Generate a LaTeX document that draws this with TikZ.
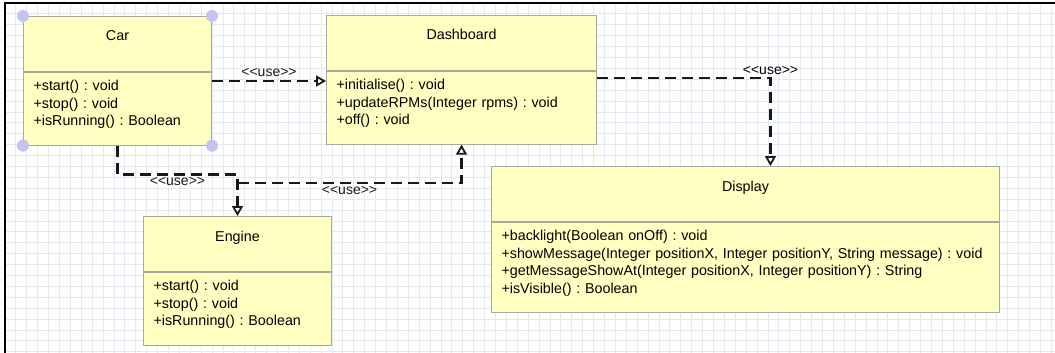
\documentclass[tikz,border=0pt]{standalone}
\usepackage{fontspec}
\setmainfont{Liberation Sans}
\usepackage{xcolor}
\definecolor{umlFill}{HTML}{FFFFC2}
\definecolor{umlEdge}{HTML}{A9A99A}
\definecolor{gridLine}{HTML}{E4E8F0}
\definecolor{handleLilac}{HTML}{C4C4F2}
\usetikzlibrary{arrows.meta,positioning,calc}

\newcommand{\lastline}{\rule[-11.5pt]{0pt}{11.5pt}}
\newcommand{\usetag}{<{}<use>{}>}
\frenchspacing

\begin{document}
\begin{tikzpicture}[
  x=1pt, y=-1pt,
  font=\fontsize{14.3}{17.6}\selectfont,
  classhead/.style={draw=umlEdge, line width=1pt, fill=umlFill, anchor=north west, inner sep=0pt, minimum height=55pt, text height=10pt, text depth=16pt, align=center},
  classbody/.style={draw=umlEdge, line width=1pt, fill=umlFill, anchor=north west, inner xsep=10pt, inner ysep=7.8pt, align=left},
  use/.style={-{Triangle[open, length=10pt, width=11pt, line width=1.8pt]}, line width=2.4pt, dash pattern=on 11pt off 6pt, black!90},
  uselabel/.style={font=\fontsize{14}{15}\selectfont, inner sep=1pt}
]
\useasboundingbox (0,0) rectangle (1055,353);

% Grid background and frame
\fill[white] (0,0) rectangle (1055,353);
\foreach \gx in {5,15.9,...,1055} \draw[gridLine, line width=0.9pt] (\gx,3) -- (\gx,353);
\foreach \gy in {3,13.9,...,353} \draw[gridLine, line width=0.9pt] (5,\gy) -- (1055,\gy);
\draw[black, line width=1.5pt] (5,353) -- (5,3) -- (1055,3);

% Classes
\node[classhead, minimum width=188pt] (carhead) at (23,16) {Car};
\node[classbody, text width=168pt, minimum width=188pt] (carbody) at (carhead.south west)
  {+start() : void\\+stop() : void\\+isRunning() : Boolean\lastline};

\node[classhead, minimum width=270pt] (dashhead) at (326,15) {Dashboard};
\node[classbody, text width=250pt, minimum width=270pt] (dashbody) at (dashhead.south west)
  {+initialise() : void\\+updateRPMs(Integer rpms) : void\\+off() : void\lastline};

\node[classhead, minimum width=188pt] (enginehead) at (143,216) {Engine};
\node[classbody, text width=168pt, minimum width=188pt] (enginebody) at (enginehead.south west)
  {+start() : void\\+stop() : void\\+isRunning() : Boolean\lastline};

\node[classhead, minimum width=508pt] (disphead) at (491,166) {Display};
\node[classbody, text width=494pt, inner xsep=7pt, minimum width=508pt] (dispbody) at (disphead.south west)
  {\hspace*{3pt}+backlight(Boolean onOff) : void\\\hspace*{3pt}+showMessage(Integer positionX, Integer positionY, String message) : void\\\hspace*{3pt}+getMessageShowAt(Integer positionX, Integer positionY) : String\\\hspace*{3pt}+isVisible() : Boolean\lastline};

% Selection handles on Car
\foreach \handle in {carhead.north west, carhead.north east, carbody.south west, carbody.south east}
  \fill[handleLilac] (\handle) circle (6pt);

% Dependencies
\coordinate (carout) at ([yshift=-9pt]carbody.north east);
\draw[use] (carout) -- node[above=2pt, uselabel] {\usetag} (carout -| dashbody.west);

\coordinate (dashout) at ([yshift=-7pt]dashbody.north east);
\coordinate (dispin) at ([xshift=25pt]disphead.north);
\draw[use] (dashout) -| (dispin);
\node[uselabel, above=2pt] (dashlabel) at (dashout -| dispin) {\usetag};

\draw[use] (carbody.south) -- ++(0,29) -| node[pos=0.25, below, uselabel] {\usetag} (enginehead.north);

% Engine edge leaves from the shared vertical
\coordinate (enginejoin) at ([yshift=33pt]enginehead.north);
\draw[use] (enginejoin) -| node[pos=0.25, below=1pt, uselabel] {\usetag} (dashbody.south);

\end{tikzpicture}
\end{document}
